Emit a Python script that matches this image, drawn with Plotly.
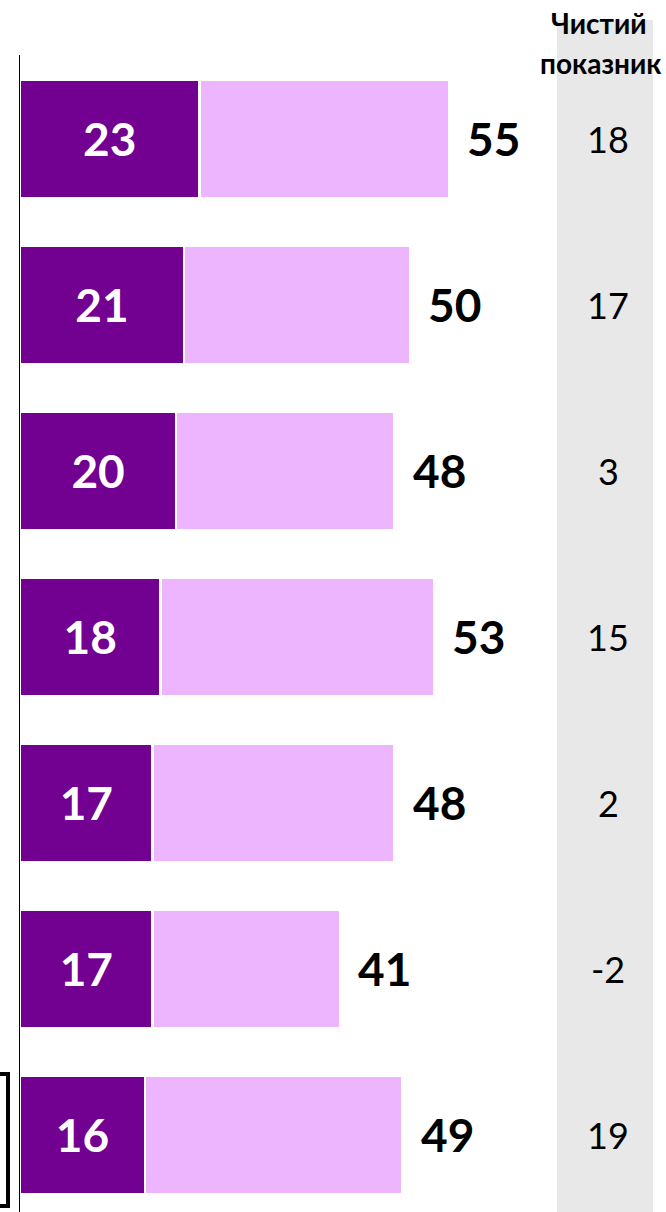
import plotly.graph_objects as go

# Data
categories = ["R1", "R2", "R3", "R4", "R5", "R6", "R7"]
dark_values = [23, 21, 20, 18, 17, 17, 16]
light_values = [32, 29, 28, 35, 31, 24, 33]
total_values = [55, 50, 48, 53, 48, 41, 49]
net_values = [18, 17, 3, 15, 2, -2, 19]
net_header = ["Чистий", "показник"]

DARK = "#720091"
LIGHT = "#EEB5FF"
GREY = "#E8E8E8"
FONT = "Lato, 'Open Sans', 'Noto Sans', sans-serif"

W, H = 666, 1212
ML, MT = 20, 55
plot_w = W - ML
plot_h = H - MT
XMAX = 82.75  # ~7.8 px per unit


def px_to_x(px):
    return (px - ML) / plot_w * XMAX


def px_to_py(py):
    return (H - py) / plot_h


fig = go.Figure()

fig.add_trace(go.Bar(
    y=categories, x=dark_values, orientation="h",
    marker=dict(color=DARK, line=dict(color="white", width=2.5)),
    text=[str(v) for v in dark_values], textposition="inside",
    insidetextanchor="middle",
    textfont=dict(family=FONT, size=46, color="white", weight="bold"),
    constraintext="none", hoverinfo="skip", showlegend=False,
))
fig.add_trace(go.Bar(
    y=categories, x=light_values, orientation="h",
    marker=dict(color=LIGHT, line=dict(color="white", width=2.5)),
    hoverinfo="skip", showlegend=False,
))

# Grey column for net values
fig.add_shape(type="rect", xref="x", yref="paper",
              x0=px_to_x(557), x1=px_to_x(653), y0=-0.02, y1=px_to_py(20),
              fillcolor=GREY, line=dict(width=0), layer="below")

annotations = []
for cat, tot, net in zip(categories, total_values, net_values):
    annotations.append(dict(
        x=tot, y=cat, xref="x", yref="y", text=str(tot), showarrow=False,
        xanchor="left", xshift=17, borderpad=0,
        font=dict(family=FONT, size=46, color="black", weight="bold"),
    ))
    annotations.append(dict(
        x=px_to_x(608), y=cat, xref="x", yref="y", text=str(net), showarrow=False,
        xanchor="center", borderpad=0,
        font=dict(family=FONT, size=36, color="black"),
    ))

annotations.append(dict(
    x=px_to_x(599), y=px_to_py(23), xref="x", yref="paper", text=net_header[0],
    showarrow=False, xanchor="center", yanchor="middle",
    font=dict(family=FONT, size=28, color="black", weight="bold"),
))
annotations.append(dict(
    x=px_to_x(601), y=px_to_py(63), xref="x", yref="paper", text=net_header[1],
    showarrow=False, xanchor="center", yanchor="middle",
    font=dict(family=FONT, size=28, color="black", weight="bold"),
))

# Bracket at lower left
fig.add_shape(type="rect", xref="paper", yref="paper",
              x0=(-30 - ML) / plot_w, x1=(8 - ML) / plot_w,
              y0=px_to_py(1206), y1=px_to_py(1074),
              line=dict(color="black", width=4), fillcolor="rgba(0,0,0,0)")

fig.update_layout(
    width=W, height=H,
    margin=dict(l=ML, r=0, t=MT, b=0),
    barmode="stack", bargap=0.29,
    plot_bgcolor="white", paper_bgcolor="white",
    annotations=annotations,
    xaxis=dict(range=[0, XMAX], visible=False, fixedrange=True),
    yaxis=dict(range=[6.464, -0.506], showticklabels=False, ticks="",
               showgrid=False, zeroline=False, showline=True,
               linecolor="black", linewidth=1.5, fixedrange=True),
)

fig.write_html(
    "out.html",
    config={"displayModeBar": False, "staticPlot": True},
    post_script="document.body.style.margin='0';document.body.style.overflow='hidden';",
)
